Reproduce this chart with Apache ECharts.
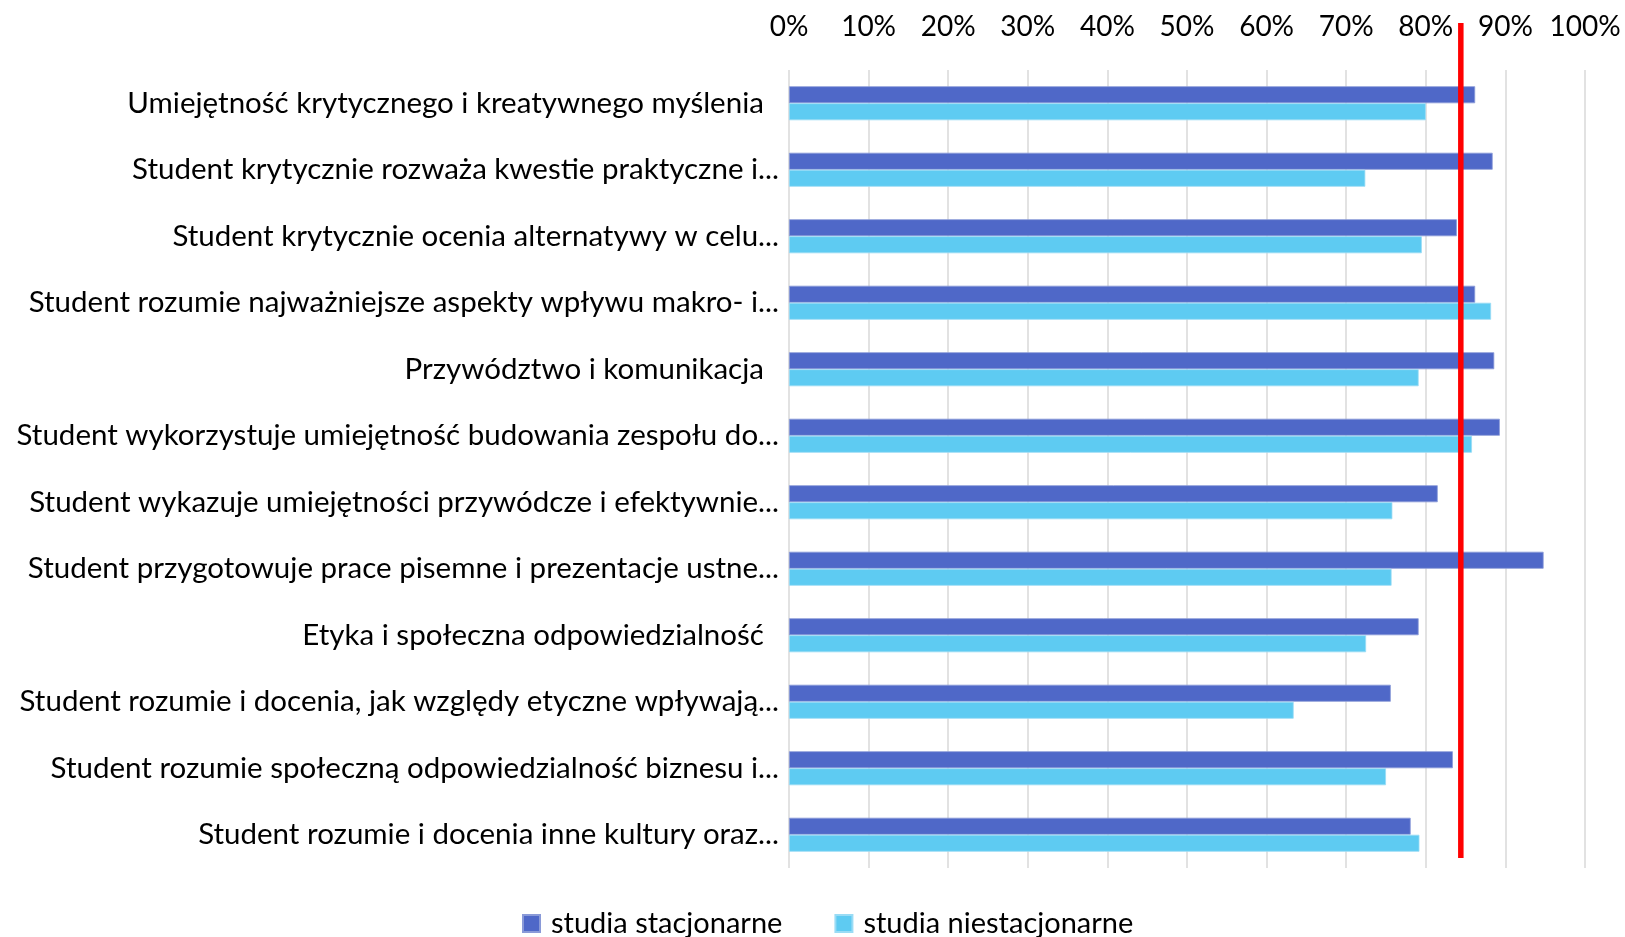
<!DOCTYPE html>
<html>
<head>
<meta charset="utf-8">
<title>Efekty uczenia się</title>
<script src="https://cdn.jsdelivr.net/npm/echarts@6/dist/echarts.min.js"></script>
<style>
  html, body { margin: 0; padding: 0; background: #fff; }
  #chart { width: 1625px; height: 937px; }
</style>
</head>
<body>
<div id="chart"></div>
<script>
// kategorie (od góry)
const categories = [
  "Umiejętność krytycznego i kreatywnego myślenia\u00a0\u00a0",
  "Student krytycznie rozważa kwestie praktyczne i...",
  "Student krytycznie ocenia alternatywy w celu...",
  "Student rozumie najważniejsze aspekty wpływu makro- i...",
  "Przywództwo i komunikacja\u00a0\u00a0",
  "Student wykorzystuje umiejętność budowania zespołu do...",
  "Student wykazuje umiejętności przywódcze i efektywnie...",
  "Student przygotowuje prace pisemne i prezentacje ustne...",
  "Etyka i społeczna odpowiedzialność\u00a0\u00a0",
  "Student rozumie i docenia, jak względy etyczne wpływają...",
  "Student rozumie społeczną odpowiedzialność biznesu i...",
  "Student rozumie i docenia inne kultury oraz..."
];

// wartości w %
const stacjonarne = [86.2, 88.4, 83.9, 86.2, 88.6, 89.3, 81.5, 94.8, 79.1, 75.6, 83.4, 78.1];
const niestacjonarne = [80.0, 72.4, 79.5, 88.2, 79.1, 85.8, 75.8, 75.7, 72.5, 63.4, 75.0, 79.2];

// próg (czerwona linia)
const target = 84.4;
const targetSpan = [0.0125, 1.059]; // zakres linii na pomocniczej osi 0..1

const chart = echarts.init(document.getElementById("chart"));
const font = "Lato, 'Liberation Sans', sans-serif";

const option = {
  animation: false,
  textStyle: { fontFamily: font },
  grid: { left: 789, right: 40, top: 70, bottom: 69 },
  legend: {
    data: ["studia stacjonarne", "studia niestacjonarne"],
    left: 517,
    top: 904,
    icon: "rect",
    itemWidth: 17,
    itemHeight: 17,
    itemGap: 52,
    textStyle: { fontSize: 29, color: "#000", fontFamily: font, padding: [0, 0, 0, 6] }
  },
  xAxis: {
    type: "value",
    position: "top",
    min: 0,
    max: 100,
    interval: 10,
    axisLine: { show: false },
    axisTick: { show: false },
    axisLabel: {
      formatter: "{value}%",
      fontSize: 28,
      color: "#000",
      margin: 29
    },
    splitLine: { lineStyle: { color: "#d9d9d9", width: 1.5 } }
  },
  yAxis: [
    {
      type: "category",
      data: categories,
      inverse: true,
      axisLine: { show: false },
      axisTick: { show: false },
      axisLabel: { fontSize: 29.5, color: "#000", margin: 10 }
    },
    {
      type: "value",
      min: 0,
      max: 1,
      show: false
    }
  ],
  series: [
    {
      name: "studia stacjonarne",
      type: "bar",
      data: stacjonarne,
      barWidth: 17,
      barGap: "0%",
      itemStyle: { color: "#4f68c8", borderColor: "#8a9ad8", borderWidth: 0.8 }
    },
    {
      name: "studia niestacjonarne",
      type: "bar",
      data: niestacjonarne,
      barWidth: 17,
      itemStyle: { color: "#5ecbf2", borderColor: "#9adcf5", borderWidth: 0.8 }
    },
    {
      name: "próg",
      type: "line",
      yAxisIndex: 1,
      clip: false,
      symbol: "none",
      silent: true,
      data: targetSpan.map(v => [target, v]),
      lineStyle: { color: "#ff0000", width: 5.5 },
      z: 5
    }
  ]
};

chart.setOption(option);
window.addEventListener("resize", () => chart.resize());
</script>
</body>
</html>
